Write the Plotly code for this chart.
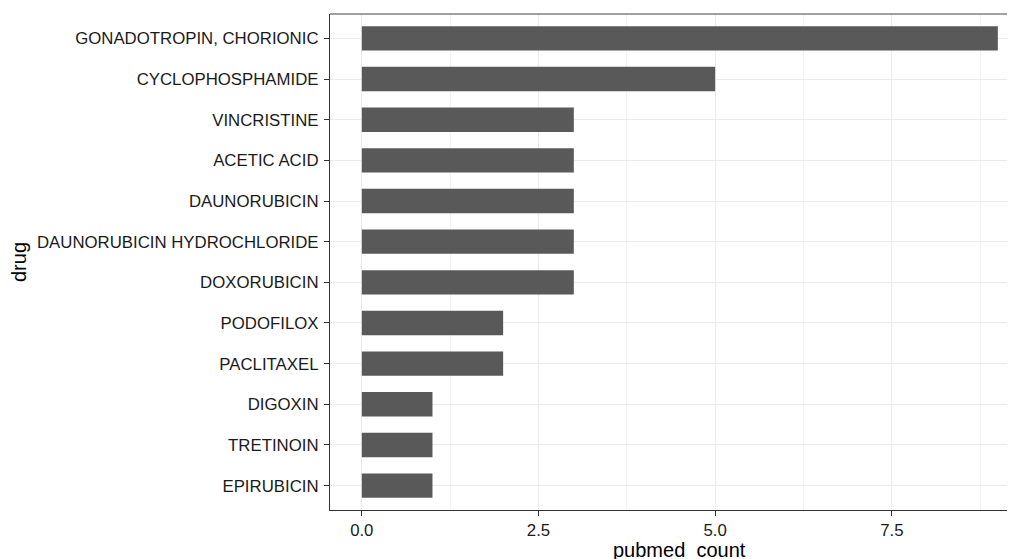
import plotly.graph_objects as go

drugs = ["GONADOTROPIN, CHORIONIC", "CYCLOPHOSPHAMIDE", "VINCRISTINE", "ACETIC ACID",
         "DAUNORUBICIN", "DAUNORUBICIN HYDROCHLORIDE", "DOXORUBICIN", "PODOFILOX",
         "PACLITAXEL", "DIGOXIN", "TRETINOIN", "EPIRUBICIN"]
pubmed_count = [9, 5, 3, 3, 3, 3, 3, 2, 2, 1, 1, 1]
x_ticks = [0, 2.5, 5, 7.5]
x_tick_labels = ["0.0", "2.5", "5.0", "7.5"]

FONT = "Liberation Sans, Arial, sans-serif"

fig = go.Figure(go.Bar(
    x=pubmed_count, y=drugs, orientation="h",
    marker=dict(color="#595959", line=dict(width=0)),
    width=0.6,
))

fig.update_layout(
    width=1007, height=551,
    margin=dict(l=322, r=0, t=6, b=49, autoexpand=False),
    paper_bgcolor="white", plot_bgcolor="white",
    showlegend=False,
    font=dict(family=FONT, color="#1a1a1a", size=16.8),
)

fig.update_xaxes(
    range=[-0.45, 9.243],
    tickvals=x_ticks, ticktext=x_tick_labels,
    showgrid=True, gridcolor="#ebebeb", gridwidth=1.4,
    minor=dict(dtick=1.25, tick0=0, showgrid=True, gridcolor="#f2f2f2", gridwidth=0.8),
    ticks="outside", ticklen=5, tickwidth=1.2, tickcolor="#333333",
    showline=True, linecolor="#333333", linewidth=1.2,
    zeroline=False, automargin=False,
    tickfont=dict(size=16.8, color="#1a1a1a"),
)
fig.update_yaxes(
    type="category", categoryorder="array", categoryarray=drugs,
    range=[11.6, -0.6],
    showgrid=True, gridcolor="#ebebeb", gridwidth=1.4,
    ticks="outside", ticklen=5, tickwidth=1.2, tickcolor="#333333",
    showline=True, linecolor="#333333", linewidth=1.2,
    automargin=False, ticklabelstandoff=2,
    tickfont=dict(size=16.8, color="#1a1a1a"),
)

# top panel border (right border lies outside the visible area)
fig.add_shape(type="line", xref="paper", yref="paper", x0=0, x1=1, y0=1, y1=1,
              line=dict(color="#444444", width=1.2))

# axis titles
fig.add_annotation(text="pubmed_count", xref="x", yref="paper", x=4.5, y=0,
                   yshift=-40, yanchor="middle", showarrow=False,
                   font=dict(size=20, color="#000000", family=FONT))
fig.add_annotation(text="drug", xref="paper", yref="paper", x=-0.454, y=0.5,
                   xanchor="center", yanchor="middle", textangle=-90, showarrow=False,
                   font=dict(size=20, color="#000000", family=FONT))

fig.write_html("out.html")
